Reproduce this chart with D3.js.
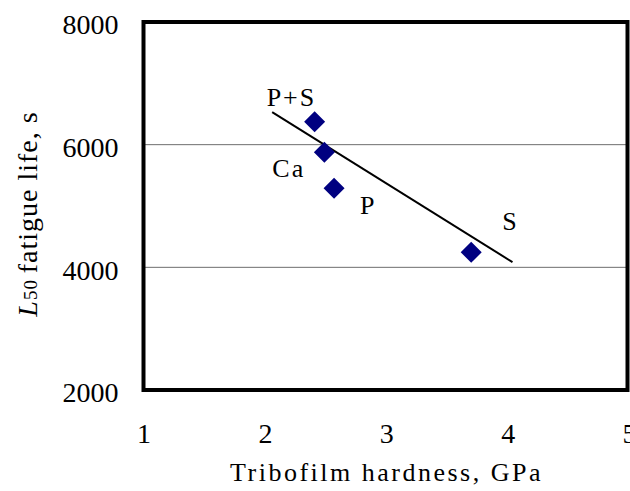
<!DOCTYPE html>
<html>
<head>
<meta charset="utf-8">
<script src="https://cdn.jsdelivr.net/npm/d3@7"></script>
<style>
  html, body { margin: 0; padding: 0; background: #fff; }
  svg { display: block; }
  text { font-family: "Liberation Serif", "DejaVu Serif", serif; fill: #000; }
</style>
</head>
<body>
<svg id="chart" width="630" height="491"></svg>
<script>
// ---- data ----
const labels = ["P+S", "Ca", "P", "S"];
const hardness = [2.41, 2.49, 2.57, 3.70];
const fatigueLife = [6375, 5875, 5290, 4245];
const trendX = [2.06, 4.04];
const trendY = [6530, 4085];
const xTicks = [1, 2, 3, 4, 5];
const yTicks = [2000, 4000, 6000, 8000];
const gridValues = [4000, 6000];

// ---- layout ----
const W = 630, H = 491;
const plot = { left: 143.5, right: 629, top: 22, bottom: 390 };

const svg = d3.select("#chart");
const x = d3.scaleLinear().domain([1, 5]).range([plot.left, plot.right]);
const y = d3.scaleLinear().domain([2000, 8000]).range([plot.bottom, plot.top]);

// gridlines
svg.append("g").selectAll("line").data(gridValues).join("line")
  .attr("x1", plot.left).attr("x2", plot.right)
  .attr("y1", d => y(d)).attr("y2", d => y(d))
  .attr("stroke", "#6e6e6e").attr("stroke-width", 1);

// axes (labels only, no tick marks)
const yAxis = d3.axisLeft(y).tickValues(yTicks).tickSize(0).tickPadding(0).tickFormat(d3.format("d"));
const gy = svg.append("g").attr("transform", `translate(${plot.left - 25},0)`).call(yAxis);
gy.select(".domain").remove();
gy.selectAll("text").attr("font-size", 28).attr("font-family", "Liberation Serif").attr("dy", "0.42em").attr("fill", "#000");

const xAxis = d3.axisBottom(x).tickValues(xTicks).tickSize(0).tickPadding(0).tickFormat(d3.format("d"));
const gx = svg.append("g").attr("transform", `translate(0,${plot.bottom + 53})`).call(xAxis);
gx.select(".domain").remove();
gx.selectAll("text").attr("font-size", 28).attr("font-family", "Liberation Serif").attr("dy", 0).attr("fill", "#000");

// frame
svg.append("rect")
  .attr("x", plot.left).attr("y", plot.top)
  .attr("width", plot.right - 1.5 - plot.left).attr("height", plot.bottom - plot.top)
  .attr("fill", "none").attr("stroke", "#000").attr("stroke-width", 4);

// trend line
svg.append("line")
  .attr("x1", x(trendX[0])).attr("y1", y(trendY[0]))
  .attr("x2", x(trendX[1])).attr("y2", y(trendY[1]))
  .attr("stroke", "#000").attr("stroke-width", 2);

// points
const pts = hardness.map((h, i) => ({ x: h, y: fatigueLife[i], label: labels[i] }));
svg.append("g").selectAll("path").data(pts).join("path")
  .attr("transform", d => `translate(${x(d.x)},${y(d.y)})`)
  .attr("d", "M0,-10.5L10.5,0L0,10.5L-10.5,0Z")
  .attr("fill", "#000080");

// point labels (pixel offsets from each point)
const labelOffsets = { "P+S": [-48, -16], "Ca": [-52, 25], "P": [26, 26], "S": [31, -22] };
svg.append("g").selectAll("text").data(pts).join("text")
  .attr("x", d => x(d.x) + labelOffsets[d.label][0])
  .attr("y", d => y(d.y) + labelOffsets[d.label][1])
  .attr("font-size", 26)
  .attr("letter-spacing", 2)
  .text(d => d.label);

// x axis title
svg.append("text")
  .attr("x", (233 + 540) / 2).attr("y", 481)
  .attr("text-anchor", "middle")
  .attr("font-size", 26).attr("letter-spacing", 2.5)
  .text("Tribofilm hardness, GPa");

// y axis title
const yt = svg.append("text")
  .attr("transform", `translate(37,${(108 + 320) / 2}) rotate(-90)`)
  .attr("text-anchor", "middle")
  .attr("font-size", 28).attr("letter-spacing", 1);
yt.append("tspan").attr("font-style", "italic").text("L");
yt.append("tspan").attr("font-size", 19).text("50 ");
yt.append("tspan").text("fatigue life, s");
</script>
</body>
</html>
